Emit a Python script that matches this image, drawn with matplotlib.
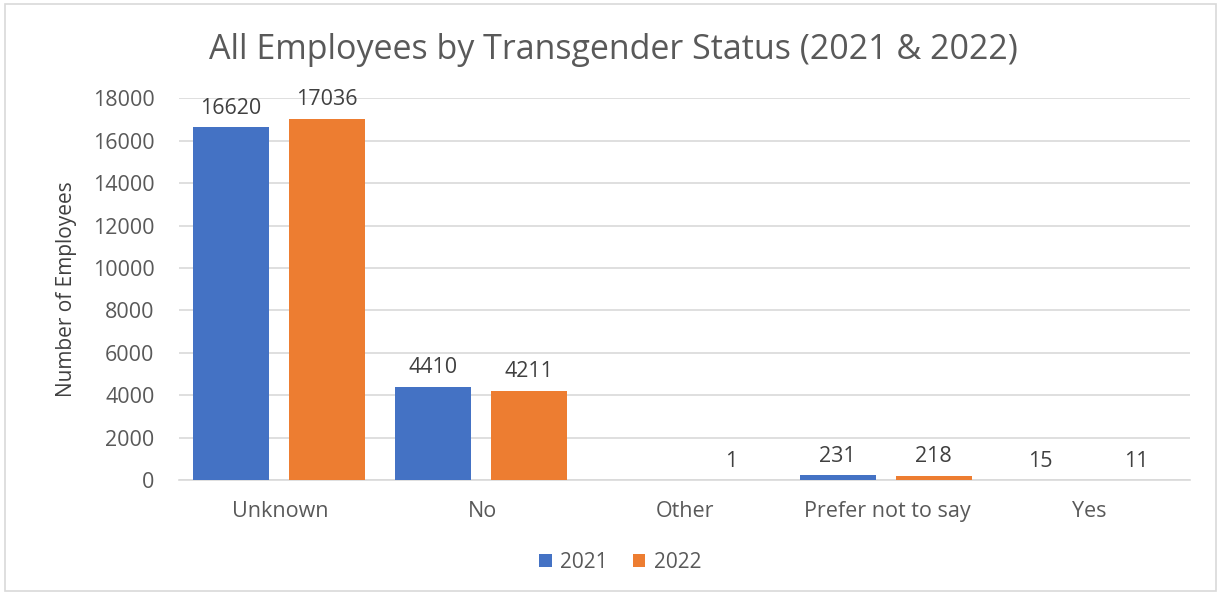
import numpy as np
import matplotlib.pyplot as plt
from matplotlib.patches import Rectangle

categories = ["Unknown", "No", "Other", "Prefer not to say", "Yes"]
years = ["2021", "2022"]
values_2021 = [16620, 4410, np.nan, 231, 15]
values_2022 = [17036, 4211, 1, 218, 11]

plt.rcParams['font.family'] = ['Open Sans', 'DejaVu Sans']

fig = plt.figure(figsize=(12.21, 5.95), dpi=100)
ax = fig.add_axes([0.147, 0.193, 0.828, 0.642])

# light chart border like the Excel frame
fig.patches.append(Rectangle((0.004, 0.006), 0.992, 0.988, transform=fig.transFigure,
                             fill=False, edgecolor='#d9d9d9', linewidth=1.2))

x = np.arange(len(categories))
w = 0.376
colors = ['#4472c4', '#ed7d31']
for vals, off, col, lab in [(values_2021, -0.245, colors[0], years[0]),
                            (values_2022, 0.230, colors[1], years[1])]:
    ax.bar(x + off, vals, width=w, color=col, label=lab, zorder=3)
    for xi, v in zip(x + off, vals):
        if np.isnan(v):
            continue
        ax.annotate(f"{int(v)}", (xi, v), xytext=(0, 6), textcoords='offset points',
                    ha='center', va='bottom', fontsize=15.5, color='#404040')

ax.set_xlim(-0.5, len(categories) - 0.5)
ax.set_ylim(0, 18000)
ax.set_yticks(np.arange(0, 18001, 2000))
ax.set_xticks(x)
ax.set_xticklabels(categories)
ax.tick_params(axis='both', length=0, labelsize=15.5, labelcolor='#595959')
ax.tick_params(axis='x', pad=15)
ax.tick_params(axis='y', pad=18)
ax.grid(axis='y', color='#d9d9d9', linewidth=1.2, zorder=0)
for s in ['top', 'right', 'left']:
    ax.spines[s].set_visible(False)
ax.spines['bottom'].set_color('#d9d9d9')
ax.spines['bottom'].set_linewidth(1.2)

ax.set_ylabel("Number of Employees", fontsize=15, color='#404040', labelpad=11)
fig.suptitle("All Employees by Transgender Status (2021 & 2022)", fontsize=24.5,
             color='#595959', x=0.502, y=0.945)

leg = fig.legend(loc='center', bbox_to_anchor=(0.508, 0.055), ncol=2, frameon=False,
                 fontsize=15, handlelength=0.6, handleheight=0.6, handletextpad=0.4,
                 columnspacing=1.2)
for t in leg.get_texts():
    t.set_color('#595959')

fig.savefig("out.png", dpi=100)
